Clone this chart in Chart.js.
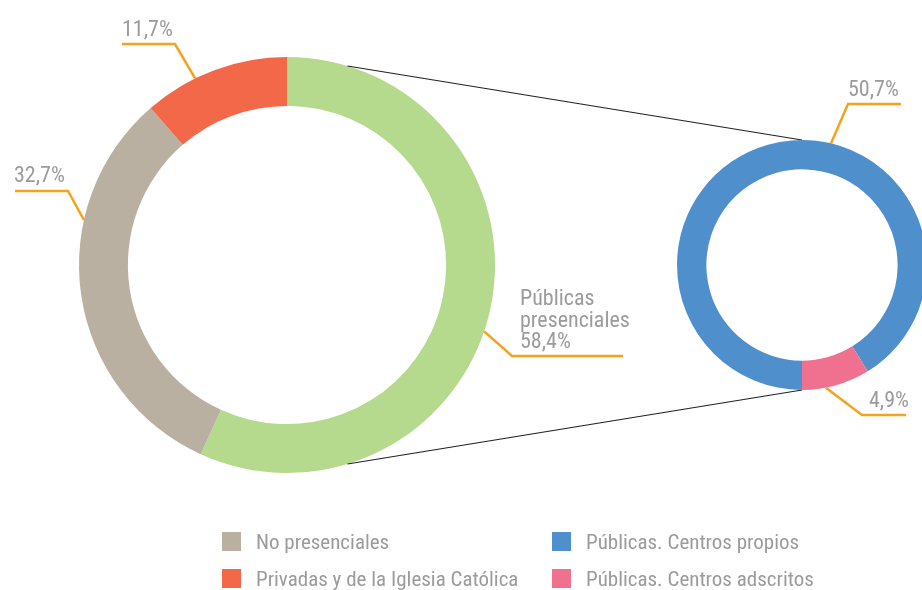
<!DOCTYPE html>
<html>
<head>
<meta charset="utf-8">
<script src="https://cdn.jsdelivr.net/npm/chart.js@4.4.1/dist/chart.umd.min.js"></script>
<style>
  body { margin: 0; background: #fff; }
  #wrap { position: relative; width: 922px; height: 590px; overflow: hidden; }
  canvas { position: absolute; left: 0; top: 0; }
  .legend { position: absolute; font-family: "Liberation Sans Narrow", "Roboto Condensed", Roboto, sans-serif; font-size: 21px; color: #9b9b9b; }
  .item { position: absolute; white-space: nowrap; height: 20px; line-height: 20px; }
  .item span { position: absolute; left: 0; top: 0; width: 19px; height: 19px; }
  .item b { position: absolute; left: 34px; top: 0; font-weight: normal; }
</style>
</head>
<body>
<div id="wrap">
  <canvas id="izq" width="922" height="590"></canvas>
  <canvas id="der" width="940" height="590"></canvas>
  <div class="legend" id="leyenda"></div>
</div>
<script>
// datos
const izqEtiquetas = ['Públicas presenciales', 'No presenciales', 'Privadas y de la Iglesia Católica'];
const izqValores = [58.4, 32.7, 11.7];
const izqColores = ['#b5d98d', '#bab0a2', '#f26849'];

const derEtiquetas = ['Públicas. Centros propios', 'Públicas. Centros adscritos'];
const derValores = [50.7, 4.9];
const derColores = ['#4f8fcb', '#f07090'];

const leyendaOrden = [
    ['No presenciales', '#bab0a2'],
    ['Públicas. Centros propios', '#4f8fcb'],
    ['Privadas y de la Iglesia Católica', '#f26849'],
    ['Públicas. Centros adscritos', '#f07090']
];

const fmt = v => v.toFixed(1).replace('.', ',') + '%';
const FUENTE = '22px "Liberation Sans Narrow", "Roboto Condensed", Roboto, sans-serif';

// posiciones de las etiquetas (angulo en grados desde arriba, en sentido horario)
const izqRotulos = [
    { angulo: 108.6, codo: [512, 356], fin: 623, texto: [520, 305], lineas: ['Públicas', 'presenciales', fmt(izqValores[0])] },
    { angulo: 282.5, codo: [68, 191], fin: 15, texto: [14, 182], lineas: [fmt(izqValores[1])] },
    { angulo: 333.8, codo: [175, 44], fin: 122, texto: [122, 36], lineas: [fmt(izqValores[2])] }
];
const derRotulos = [
    { angulo: 13.4, codo: [848, 104], fin: 901, texto: [848, 96], lineas: [fmt(derValores[0])] },
    { angulo: 169, codo: [862, 415], fin: 906, texto: [869, 407], lineas: [fmt(derValores[1])] }
];

function rotulos(items) {
    return {
        id: 'rotulos',
        afterDatasetsDraw(chart) {
            const ctx = chart.ctx;
            const arco = chart.getDatasetMeta(0).data[0];
            const cx = arco.x, cy = arco.y, r = arco.outerRadius;
            ctx.save();
            items.forEach(it => {
                const a = it.angulo * Math.PI / 180;
                ctx.strokeStyle = '#f5a21f';
                ctx.lineWidth = 2.5;
                ctx.beginPath();
                ctx.moveTo(cx + r * Math.sin(a), cy - r * Math.cos(a));
                ctx.lineTo(it.codo[0], it.codo[1]);
                ctx.lineTo(it.fin, it.codo[1]);
                ctx.stroke();
                ctx.fillStyle = '#9b9b9b';
                ctx.font = FUENTE;
                ctx.textAlign = 'left';
                ctx.textBaseline = 'alphabetic';
                it.lineas.forEach((l, i) => ctx.fillText(l, it.texto[0], it.texto[1] + i * 21.5));
            });
            ctx.restore();
        }
    };
}

function opciones(padding) {
    return {
        responsive: false,
        animation: false,
        cutout: '76.5%',
        layout: { padding: padding },
        plugins: { legend: { display: false }, tooltip: { enabled: false } },
        events: []
    };
}

const graficoIzq = new Chart(document.getElementById('izq').getContext('2d'), {
    type: 'doughnut',
    data: {
        labels: izqEtiquetas,
        datasets: [{ data: izqValores, backgroundColor: izqColores, borderWidth: 0, hoverOffset: 0 }]
    },
    options: Object.assign(opciones({ left: 79, right: 427, top: 57, bottom: 117 }), { rotation: 0 }),
    plugins: [rotulos(izqRotulos)]
});

// lineas que unen los dos anillos
const conectores = {
    id: 'conectores',
    beforeDatasetsDraw(chart) {
        const ctx = chart.ctx;
        const a = graficoIzq.getDatasetMeta(0).data[0];
        const b = chart.getDatasetMeta(0).data[0];
        const ang = 16.9 * Math.PI / 180;
        ctx.save();
        ctx.strokeStyle = '#222';
        ctx.lineWidth = 1.2;
        ctx.beginPath();
        ctx.moveTo(a.x + a.outerRadius * Math.sin(ang), a.y - a.outerRadius * Math.cos(ang));
        ctx.lineTo(b.x, b.y - b.outerRadius);
        ctx.moveTo(a.x + a.outerRadius * Math.sin(ang), a.y + a.outerRadius * Math.cos(ang));
        ctx.lineTo(b.x, b.y + b.outerRadius);
        ctx.stroke();
        ctx.restore();
    }
};

new Chart(document.getElementById('der').getContext('2d'), {
    type: 'doughnut',
    data: {
        labels: derEtiquetas,
        datasets: [{ data: derValores, backgroundColor: derColores, borderWidth: 0, hoverOffset: 0 }]
    },
    options: Object.assign(opciones({ left: 677, right: 13, top: 140, bottom: 200 }), { rotation: 180 }),
    plugins: [conectores, rotulos(derRotulos)]
});

// leyenda
const ley = document.getElementById('leyenda');
leyendaOrden.forEach((e, i) => {
    const d = document.createElement('div');
    d.className = 'item';
    d.style.left = (i % 2 === 0 ? 222 : 552) + 'px';
    d.style.top = (i < 2 ? 532 : 569) + 'px';
    d.innerHTML = '<span style="background:' + e[1] + '"></span><b>' + e[0] + '</b>';
    ley.appendChild(d);
});
</script>
</body>
</html>
